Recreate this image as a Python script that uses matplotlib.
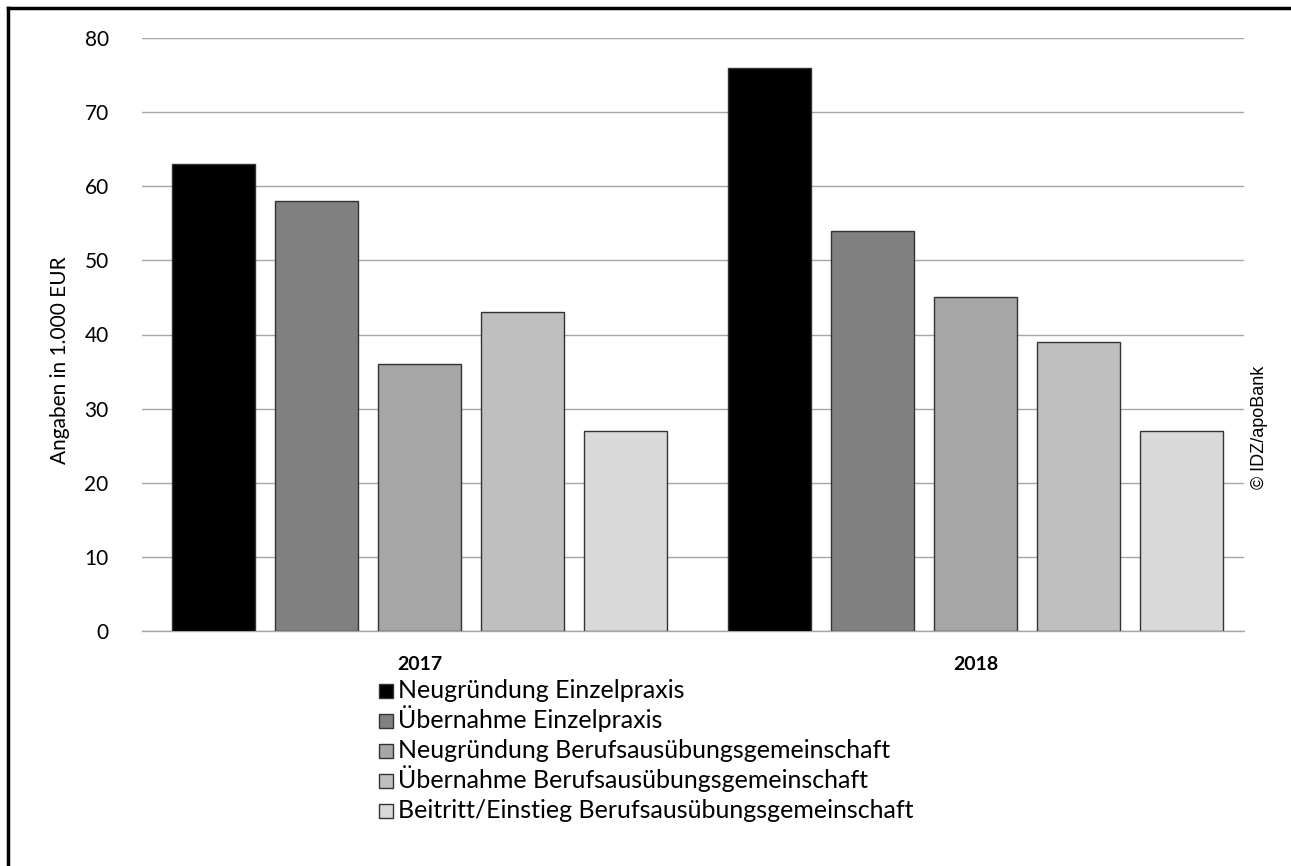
import numpy as np
import matplotlib.pyplot as plt
from matplotlib.lines import Line2D
from matplotlib.patches import Rectangle

years = ["2017", "2018"]
series = [
    "Neugründung Einzelpraxis",
    "Übernahme Einzelpraxis",
    "Neugründung Berufsausübungsgemeinschaft",
    "Übernahme Berufsausübungsgemeinschaft",
    "Beitritt/Einstieg Berufsausübungsgemeinschaft",
]
neugruendung_ep = [63, 76]
uebernahme_ep = [58, 54]
neugruendung_bag = [36, 45]
uebernahme_bag = [43, 39]
beitritt_bag = [27, 27]
colors = ["#000000", "#808080", "#a6a6a6", "#bfbfbf", "#d9d9d9"]

values = [neugruendung_ep, uebernahme_ep, neugruendung_bag, uebernahme_bag, beitritt_bag]

W, H = 1291, 866
FONT = "Lato"
fig = plt.figure(figsize=(W / 100, H / 100), dpi=100)
ax = fig.add_axes([142 / W, 1 - 631 / H, (1244 - 142) / W, (631 - 38) / H])

x = np.arange(len(years))
unit = 556.0  # px between the two year groups
step = 103 / unit
width = 83 / unit
for i, (name, vals, c) in enumerate(zip(series, values, colors)):
    ax.bar(x + (i - 2) * step, vals, width, color=c, edgecolor="#333333",
           linewidth=1.0, label=name, zorder=3)

ax.set_xlim(-(419.5 - 142) / unit, 1 + (1244 - 975.5) / unit)
ax.set_ylim(0, 80)
ax.set_yticks(np.arange(0, 81, 10))
ax.yaxis.grid(True, color="#a6a6a6", linewidth=1.0, zorder=0)
ax.set_axisbelow(True)
for s in ["top", "right", "left"]:
    ax.spines[s].set_visible(False)
ax.spines["bottom"].set_color("#a6a6a6")
ax.spines["bottom"].set_linewidth(1.0)
ax.tick_params(axis="y", length=0, pad=24, labelsize=15, labelcolor="#000000")
ax.tick_params(axis="x", length=0, pad=18)
ax.set_xticks(x)
ax.set_xticklabels(years, fontsize=14, fontweight="bold", family=FONT)
for lbl in ax.get_yticklabels():
    lbl.set_family(FONT)

fig.text(60 / W, 1 - 360 / H, "Angaben in 1.000 EUR", rotation=90,
         ha="center", va="center", fontsize=15, family=FONT)
fig.text(1260 / W, 1 - 427 / H, "© IDZ/apoBank", rotation=90,
         ha="center", va="center", fontsize=13, family="Liberation Sans")

# legend entries below the axes, one row every 30 px
for i, (name, c) in enumerate(zip(series, colors)):
    yc = 691 + 30 * i
    fig.add_artist(Rectangle((379 / W, 1 - (yc + 7) / H), 14 / W, 14 / H,
                             facecolor=c, edgecolor="#333333", linewidth=1.0,
                             transform=fig.transFigure))
    fig.text(398 / W, 1 - (yc + 7) / H, name, ha="left", va="baseline",
             fontsize=18, family=FONT)

# frame lines (top and left only)
fig.add_artist(Line2D([8 / W, 1.0], [1 - 7.5 / H, 1 - 7.5 / H], color="black",
                      linewidth=2.5, transform=fig.transFigure))
fig.add_artist(Line2D([8 / W, 8 / W], [0, 1 - 7.5 / H], color="black",
                      linewidth=2.5, transform=fig.transFigure))

fig.savefig("out.png", dpi=100)
